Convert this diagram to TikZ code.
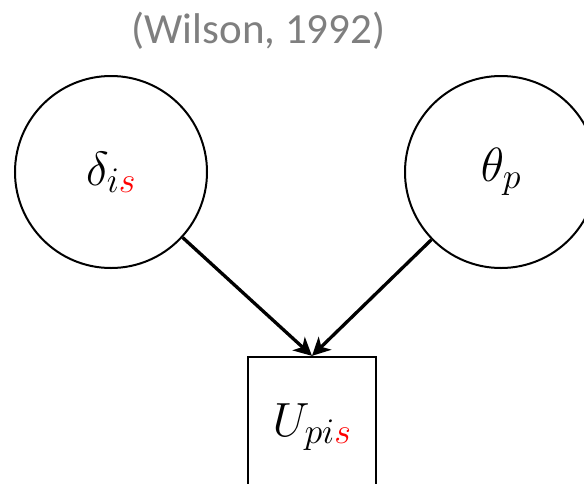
\RequirePackage{fix-cm}
\documentclass[tikz,border=0pt]{standalone}
\usepackage{fontspec}
\newfontfamily\titlefont{Carlito}
\usetikzlibrary{arrows.meta}
\definecolor{titlegray}{HTML}{7F7F7F}
\DeclareMathSizes{48}{48}{36}{26}
\begin{document}
\begin{tikzpicture}[x=1pt,y=-1pt,
  latent/.style={circle,draw=black,line width=2pt,minimum size=192pt,inner sep=0pt,
    font=\fontsize{48}{56}\selectfont},
  observed/.style={rectangle,draw=black,line width=2.3pt,minimum width=128pt,minimum height=140pt,inner sep=0pt,
    font=\fontsize{48}{56}\selectfont},
  edge/.style={line width=3.3pt,-{Stealth[length=18pt,width=18pt,inset=5pt]}},
  titletext/.style={font=\titlefont\fontsize{43}{50}\selectfont,text=titlegray,anchor=base,inner sep=0pt}]
\clip (0,0) rectangle (584,483);
\useasboundingbox (0,0) rectangle (584,483);
\node[titletext] (title) at (258.5,43) {(Wilson, 1992)};
\node[latent] (delta) at (111,172) {$\delta_{i\textcolor{red}{s}}$};
\node[latent] (theta) at (501,172) {$\theta_p$};
\node[observed] (U) at (312,427) {$U_{pi\textcolor{red}{s}}$};
\draw[edge] (delta) -- (U.north);
\draw[edge] (theta) -- (U.north);
\end{tikzpicture}
\end{document}
